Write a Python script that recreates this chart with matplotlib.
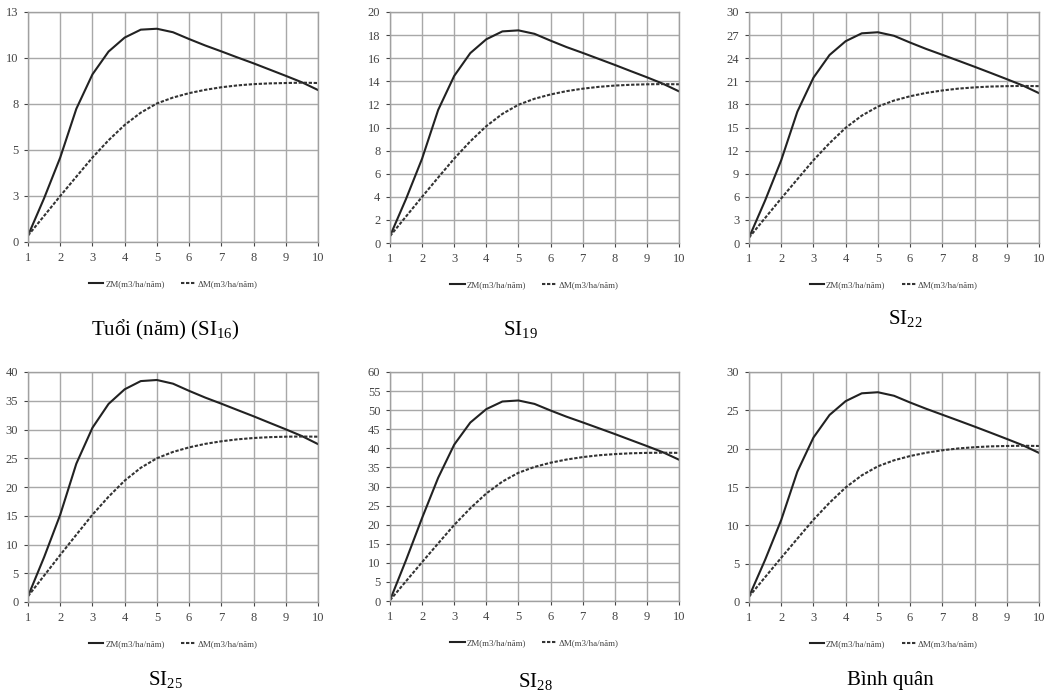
import matplotlib
matplotlib.use("Agg")
import matplotlib.pyplot as plt

plt.rcParams['font.family'] = ['Liberation Serif', 'DejaVu Serif']
plt.rcParams['mathtext.fontset'] = 'custom'
plt.rcParams['mathtext.rm'] = 'Liberation Serif'
plt.rcParams['mathtext.it'] = 'Liberation Serif'

# tuoi (nam), buoc 0.5
tuoi = [1, 1.5, 2, 2.5, 3, 3.5, 4, 4.5, 5, 5.5, 6, 6.5, 7, 7.5, 8, 8.5, 9, 9.5, 10]

zm_16 = [0.35, 2.38, 4.59, 7.24, 9.11, 10.35, 11.11, 11.54, 11.59, 11.40, 11.03, 10.68, 10.36, 10.03, 9.71, 9.37, 9.03, 8.68, 8.26]
dm_16 = [0.35, 1.42, 2.50, 3.55, 4.59, 5.53, 6.36, 7.03, 7.53, 7.85, 8.09, 8.27, 8.41, 8.51, 8.58, 8.62, 8.64, 8.66, 8.64]

zm_19 = [0.6, 3.82, 7.31, 11.52, 14.47, 16.44, 17.64, 18.32, 18.41, 18.11, 17.52, 16.96, 16.46, 15.94, 15.42, 14.88, 14.35, 13.79, 13.13]
dm_19 = [0.6, 2.30, 4.00, 5.67, 7.31, 8.80, 10.12, 11.18, 11.97, 12.49, 12.86, 13.15, 13.36, 13.52, 13.63, 13.70, 13.74, 13.76, 13.74]

zm_22 = [0.7, 5.52, 10.75, 17.05, 21.47, 24.42, 26.21, 27.23, 27.37, 26.91, 26.03, 25.20, 24.44, 23.67, 22.89, 22.09, 21.28, 20.45, 19.46]
dm_22 = [0.7, 3.25, 5.79, 8.28, 10.75, 12.97, 14.96, 16.54, 17.72, 18.50, 19.06, 19.49, 19.81, 20.05, 20.21, 20.32, 20.37, 20.40, 20.37]

zm_25 = [1.0, 7.80, 15.18, 24.06, 30.30, 34.45, 36.99, 38.42, 38.61, 37.97, 36.72, 35.55, 34.49, 33.39, 32.30, 31.16, 30.03, 28.86, 27.46]
dm_25 = [1.0, 4.59, 8.18, 11.70, 15.18, 18.31, 21.11, 23.34, 25.00, 26.10, 26.89, 27.50, 27.95, 28.29, 28.52, 28.67, 28.75, 28.78, 28.75]

zm_28 = [0.2, 10.72, 21.77, 32.29, 40.97, 46.75, 50.28, 52.27, 52.54, 51.64, 49.91, 48.28, 46.80, 45.28, 43.75, 42.17, 40.60, 38.97, 37.02]
dm_28 = [0.2, 5.20, 10.19, 15.09, 19.93, 24.29, 28.18, 31.29, 33.60, 35.13, 36.23, 37.07, 37.70, 38.18, 38.49, 38.70, 38.81, 38.86, 38.81]

zm_bq = [0.7, 5.50, 10.70, 17.00, 21.45, 24.40, 26.20, 27.22, 27.36, 26.90, 26.02, 25.20, 24.43, 23.66, 22.88, 22.08, 21.27, 20.44, 19.45]
dm_bq = [0.7, 3.24, 5.77, 8.26, 10.73, 12.95, 14.94, 16.52, 17.70, 18.48, 19.04, 19.47, 19.79, 20.03, 20.19, 20.30, 20.35, 20.38, 20.35]

# truc y tung panel
yticks_16 = [0, 2.5, 5, 7.5, 10, 12.5]
ylabels_16 = ['0', '3', '5', '8', '10', '13']
yticks_19 = [0, 2, 4, 6, 8, 10, 12, 14, 16, 18, 20]
yticks_22 = [0, 3, 6, 9, 12, 15, 18, 21, 24, 27, 30]
yticks_25 = [0, 5, 10, 15, 20, 25, 30, 35, 40]
yticks_28 = [0, 5, 10, 15, 20, 25, 30, 35, 40, 45, 50, 55, 60]
yticks_bq = [0, 5, 10, 15, 20, 25, 30]

tieu_de = [r'Tuổi (năm) (SI$_{\mathrm{16}}$)', r'SI$_{\mathrm{19}}$', r'SI$_{\mathrm{22}}$',
           r'SI$_{\mathrm{25}}$', r'SI$_{\mathrm{28}}$', 'Bình quân']

W, H = 1048, 697
fig = plt.figure(figsize=(W / 100, H / 100), dpi=100)

def px_axes(l, t, r, b):
    return fig.add_axes([l / W, 1 - b / H, (r - l) / W, (b - t) / H])

panels = [
    (px_axes(28, 12, 318, 242), zm_16, dm_16, yticks_16, ylabels_16, (165, 330)),
    (px_axes(390, 12, 679, 243), zm_19, dm_19, yticks_19, None, (520, 330)),
    (px_axes(749, 12, 1039, 243), zm_22, dm_22, yticks_22, None, (905, 318)),
    (px_axes(28, 372, 318, 602), zm_25, dm_25, yticks_25, None, (165, 680)),
    (px_axes(390, 372, 679, 601), zm_28, dm_28, yticks_28, None, (535, 682)),
    (px_axes(749, 372, 1039, 602), zm_bq, dm_bq, yticks_bq, None, (890, 680)),
]

for i, (ax, zm, dm, yt, yl, cap) in enumerate(panels):
    ax.plot(tuoi, zm, color='#222222', lw=1.5, label='ZM(m3/ha/năm)')
    ax.plot(tuoi, dm, color='#333333', lw=1.5, dashes=(1.6, 0.8), label='ΔM(m3/ha/năm)')
    ax.set_xlim(1, 10)
    ax.set_ylim(yt[0], yt[-1])
    ax.set_xticks(range(1, 11))
    ax.set_yticks(yt)
    if yl is not None:
        ax.set_yticklabels(yl)
    ax.grid(True, color='#a8a8a8', lw=1.0)
    ax.set_axisbelow(True)
    for s in ax.spines.values():
        s.set_color('#a0a0a0')
        s.set_linewidth(1.0)
    ax.tick_params(labelsize=9, colors='#444444', length=3, width=0.8, pad=4)
    ax.legend(loc='upper center', bbox_to_anchor=(0.5, -0.13), ncol=2, frameon=False,
              fontsize=6.5, handlelength=1.6, columnspacing=1.8, handletextpad=0.2,
              labelcolor='#444444')
    fig.text(cap[0] / W, 1 - cap[1] / H, tieu_de[i], fontsize=15, ha='center', va='center')

fig.savefig('out.png', dpi=100, facecolor='white')
